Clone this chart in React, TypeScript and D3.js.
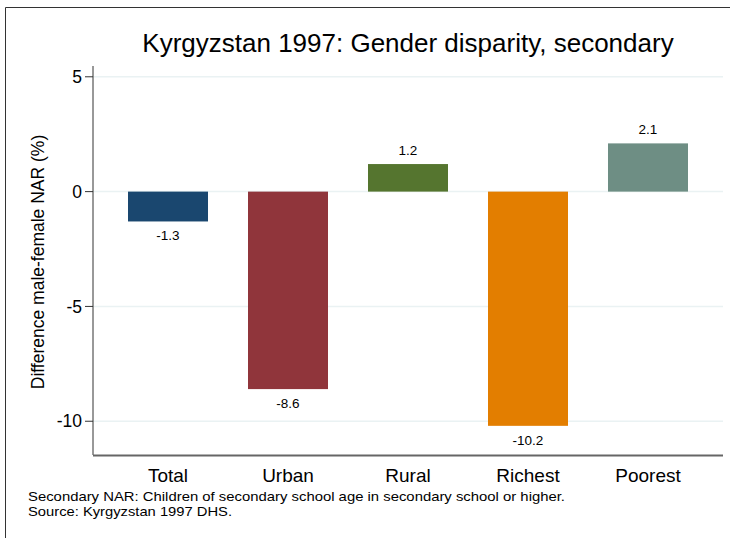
import React from "react";
import * as d3 from "d3";

const categories = ["Total", "Urban", "Rural", "Richest", "Poorest"];
const values = [-1.3, -8.6, 1.2, -10.2, 2.1];
const valueLabels = ["-1.3", "-8.6", "1.2", "-10.2", "2.1"];
const colors = ["#1a476f", "#90353b", "#55752f", "#e37e00", "#6e8e84"];
const yTicks = [5, 0, -5, -10];
const title = "Kyrgyzstan 1997: Gender disparity, secondary";
const yTitle = "Difference male-female NAR (%)";
const notes = [
  "Secondary NAR: Children of secondary school age in secondary school or higher.",
  "Source: Kyrgyzstan 1997 DHS.",
];

export default function App() {
  const W = 730, H = 538;
  const left = 93, right = 723, top = 66, bottom = 455;
  const font = "'Liberation Sans', Arial, sans-serif";
  const x = d3.scaleBand<string>().domain(categories).range([left, right]).paddingInner(1 / 3).paddingOuter(0.2917);
  const y = d3.scaleLinear().domain([-11.47, 5.47]).range([bottom, top]);
  return (
    <svg width={W} height={H} style={{ position: "absolute", left: 0, top: 0, background: "#fff" }} fontFamily={font}>
      <rect x={0} y={0} width={W} height={H} fill="#fff" />
      <path d={`M5.5,${H} V7.5 H${W}`} fill="none" stroke="#333" strokeWidth={1} />
      {yTicks.map((t) => (
        <g key={t}>
          <line x1={left} x2={right} y1={y(t)} y2={y(t)} stroke="#eaf2f3" strokeWidth={1.5} />
          <line x1={left - 8} x2={left} y1={y(t)} y2={y(t)} stroke="#333" strokeWidth={1} />
          <text x={left - 11} y={y(t)} dy="0.35em" textAnchor="end" fontSize={17.5} fill="#000">{t}</text>
        </g>
      ))}
      {categories.map((c, i) => {
        const v = values[i];
        const y0 = y(0), y1 = y(v);
        const cx = (x(c) as number) + x.bandwidth() / 2;
        return (
          <g key={c}>
            <rect x={x(c)} width={x.bandwidth()} y={Math.min(y0, y1)} height={Math.abs(y1 - y0)} fill={colors[i]} />
            <text x={cx} y={v < 0 ? y1 + 14 : y1 - 14} dy="0.35em" textAnchor="middle" fontSize={13.5} fill="#000">{valueLabels[i]}</text>
            <text x={cx} y={475} dy="0.35em" textAnchor="middle" fontSize={19} fill="#000">{c}</text>
          </g>
        );
      })}
      <line x1={left} x2={left} y1={top} y2={bottom} stroke="#333" strokeWidth={1} />
      <line x1={left} x2={right} y1={bottom + 0.5} y2={bottom + 0.5} stroke="#666" strokeWidth={2} />
      <text x={38} y={262} dy="0.35em" textAnchor="middle" fontSize={17.5} transform={`rotate(-90, 38, 262)`} fill="#000">{yTitle}</text>
      <text x={408} y={43} dy="0.35em" textAnchor="middle" fontSize={26} fill="#000">{title}</text>
      {notes.map((n, i) => (
        <text key={i} x={28} y={496 + i * 15.5} dy="0.35em" fontSize={13.5} fill="#000"
          {...(i === 0 ? { textLength: 537, lengthAdjust: "spacingAndGlyphs" } : { textLength: 204, lengthAdjust: "spacingAndGlyphs" })}>{n}</text>
      ))}
    </svg>
  );
}
